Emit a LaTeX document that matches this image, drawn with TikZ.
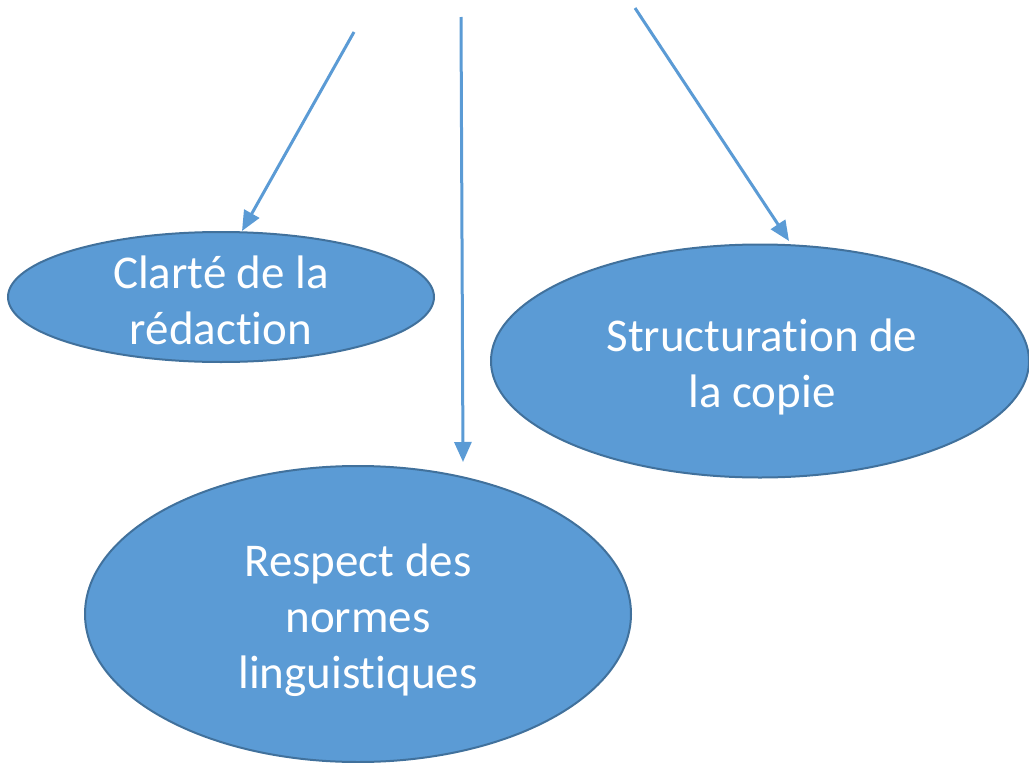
\documentclass[tikz,border=0pt]{standalone}
\usepackage{fontspec}
\setmainfont[Ligatures={NoCommon,NoContextual},RawFeature={-liga;-calt;-clig;-dlig}]{Carlito}
\usetikzlibrary{shapes.geometric,arrows.meta}
\definecolor{fillblue}{HTML}{5B9BD5}
\definecolor{edgeblue}{HTML}{41719C}
\tikzset{
  bubble/.style={ellipse, draw=edgeblue, line width=2pt, fill=fillblue, inner sep=0pt},
  bubbletext/.style={text=white, align=center, inner sep=0pt, font=\fontsize{47}{56}\selectfont},
  link/.style={draw=fillblue, line width=3pt, -{Triangle[length=20pt,width=17pt]}}
}
\begin{document}
\begin{tikzpicture}[x=1pt,y=-1pt]
\useasboundingbox (0,0) rectangle (1029,763);
\clip (0,0) rectangle (1029,763);
\node[bubble, minimum width=426pt, minimum height=130pt] (clarte) at (221,297) {};
\node[bubble, minimum width=538pt, minimum height=233pt] (struct) at (760,361) {};
\node[bubble, minimum width=546pt, minimum height=296pt] (respect) at (358,614) {};
\node[bubbletext, yshift=-3pt] (tclarte) at (clarte.center) {Clarté de la\\rédaction};
\node[bubbletext, yshift=-6pt, xshift=2pt] (tstruct) at (struct.center) {Structuration de\\la copie};
\node[bubbletext, yshift=-6pt] (trespect) at (respect.center) {Respect des\\normes\\linguistiques};
\coordinate (s1) at (354,32);
\coordinate (e1) at (242,231);
\coordinate (s2) at (461,17);
\coordinate (e2) at (463,462);
\coordinate (s3) at (635,8);
\coordinate (e3) at (789,241);
\draw[link] (s1) -- (e1);
\draw[link] (s2) -- (e2);
\draw[link] (s3) -- (e3);
\end{tikzpicture}
\end{document}
